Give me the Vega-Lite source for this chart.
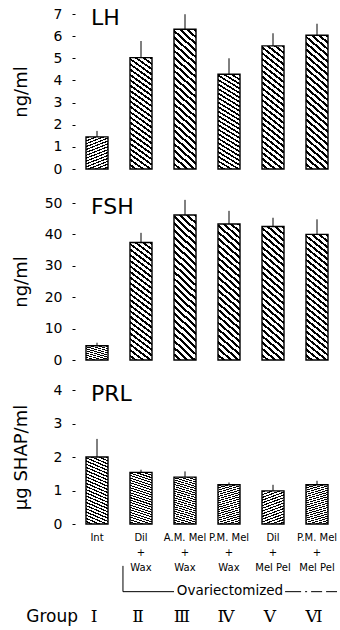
{
  "$schema": "https://vega.github.io/schema/vega-lite/v6.json",
  "background": "white",
  "padding": {"left": 11, "top": 6, "right": 1, "bottom": 4},
  "data": {"values": [
    {"hormone": "LH", "treat": "Int", "roman": "Ⅰ", "mean": 1.45, "hi": 1.72},
    {"hormone": "LH", "treat": "Dil + Wax", "roman": "Ⅱ", "mean": 5.03, "hi": 5.78},
    {"hormone": "LH", "treat": "A.M. Mel + Wax", "roman": "Ⅲ", "mean": 6.31, "hi": 6.99},
    {"hormone": "LH", "treat": "P.M. Mel + Wax", "roman": "Ⅳ", "mean": 4.28, "hi": 5.0},
    {"hormone": "LH", "treat": "Dil + Mel Pel", "roman": "Ⅴ", "mean": 5.56, "hi": 6.13},
    {"hormone": "LH", "treat": "P.M. Mel + Mel Pel", "roman": "Ⅵ", "mean": 6.04, "hi": 6.56},
    {"hormone": "FSH", "treat": "Int", "roman": "Ⅰ", "mean": 4.55, "hi": 5.5},
    {"hormone": "FSH", "treat": "Dil + Wax", "roman": "Ⅱ", "mean": 37.4, "hi": 40.5},
    {"hormone": "FSH", "treat": "A.M. Mel + Wax", "roman": "Ⅲ", "mean": 46.2, "hi": 51.0},
    {"hormone": "FSH", "treat": "P.M. Mel + Wax", "roman": "Ⅳ", "mean": 43.3, "hi": 47.5},
    {"hormone": "FSH", "treat": "Dil + Mel Pel", "roman": "Ⅴ", "mean": 42.5, "hi": 45.3},
    {"hormone": "FSH", "treat": "P.M. Mel + Mel Pel", "roman": "Ⅵ", "mean": 40.0, "hi": 44.8},
    {"hormone": "PRL", "treat": "Int", "roman": "Ⅰ", "mean": 2.0, "hi": 2.54},
    {"hormone": "PRL", "treat": "Dil + Wax", "roman": "Ⅱ", "mean": 1.54, "hi": 1.62},
    {"hormone": "PRL", "treat": "A.M. Mel + Wax", "roman": "Ⅲ", "mean": 1.4, "hi": 1.57},
    {"hormone": "PRL", "treat": "P.M. Mel + Wax", "roman": "Ⅳ", "mean": 1.17, "hi": 1.24},
    {"hormone": "PRL", "treat": "Dil + Mel Pel", "roman": "Ⅴ", "mean": 0.99, "hi": 1.17},
    {"hormone": "PRL", "treat": "P.M. Mel + Mel Pel", "roman": "Ⅵ", "mean": 1.17, "hi": 1.29}
  ]},
  "config": {
    "view": {"stroke": null},
    "font": "DejaVu Sans",
    "text": {"color": "black", "font": "DejaVu Sans"},
    "bar": {"fill": {"gradient": "linear", "x1": 1, "y1": 0, "x2": 0.8411, "y2": 1.1194, "stops": [
      {"offset": 0, "color": "#000"}, {"offset": 0.0175, "color": "#000"}, {"offset": 0.0175, "color": "#fff"}, {"offset": 0.0417, "color": "#fff"},
      {"offset": 0.0417, "color": "#000"}, {"offset": 0.0592, "color": "#000"}, {"offset": 0.0592, "color": "#fff"}, {"offset": 0.0833, "color": "#fff"},
      {"offset": 0.0833, "color": "#000"}, {"offset": 0.1008, "color": "#000"}, {"offset": 0.1008, "color": "#fff"}, {"offset": 0.125, "color": "#fff"},
      {"offset": 0.125, "color": "#000"}, {"offset": 0.1425, "color": "#000"}, {"offset": 0.1425, "color": "#fff"}, {"offset": 0.1667, "color": "#fff"},
      {"offset": 0.1667, "color": "#000"}, {"offset": 0.1842, "color": "#000"}, {"offset": 0.1842, "color": "#fff"}, {"offset": 0.2083, "color": "#fff"},
      {"offset": 0.2083, "color": "#000"}, {"offset": 0.2258, "color": "#000"}, {"offset": 0.2258, "color": "#fff"}, {"offset": 0.25, "color": "#fff"},
      {"offset": 0.25, "color": "#000"}, {"offset": 0.2675, "color": "#000"}, {"offset": 0.2675, "color": "#fff"}, {"offset": 0.2917, "color": "#fff"},
      {"offset": 0.2917, "color": "#000"}, {"offset": 0.3092, "color": "#000"}, {"offset": 0.3092, "color": "#fff"}, {"offset": 0.3333, "color": "#fff"},
      {"offset": 0.3333, "color": "#000"}, {"offset": 0.3508, "color": "#000"}, {"offset": 0.3508, "color": "#fff"}, {"offset": 0.375, "color": "#fff"},
      {"offset": 0.375, "color": "#000"}, {"offset": 0.3925, "color": "#000"}, {"offset": 0.3925, "color": "#fff"}, {"offset": 0.4167, "color": "#fff"},
      {"offset": 0.4167, "color": "#000"}, {"offset": 0.4342, "color": "#000"}, {"offset": 0.4342, "color": "#fff"}, {"offset": 0.4583, "color": "#fff"},
      {"offset": 0.4583, "color": "#000"}, {"offset": 0.4758, "color": "#000"}, {"offset": 0.4758, "color": "#fff"}, {"offset": 0.5, "color": "#fff"},
      {"offset": 0.5, "color": "#000"}, {"offset": 0.5175, "color": "#000"}, {"offset": 0.5175, "color": "#fff"}, {"offset": 0.5417, "color": "#fff"},
      {"offset": 0.5417, "color": "#000"}, {"offset": 0.5592, "color": "#000"}, {"offset": 0.5592, "color": "#fff"}, {"offset": 0.5833, "color": "#fff"},
      {"offset": 0.5833, "color": "#000"}, {"offset": 0.6008, "color": "#000"}, {"offset": 0.6008, "color": "#fff"}, {"offset": 0.625, "color": "#fff"},
      {"offset": 0.625, "color": "#000"}, {"offset": 0.6425, "color": "#000"}, {"offset": 0.6425, "color": "#fff"}, {"offset": 0.6667, "color": "#fff"},
      {"offset": 0.6667, "color": "#000"}, {"offset": 0.6842, "color": "#000"}, {"offset": 0.6842, "color": "#fff"}, {"offset": 0.7083, "color": "#fff"},
      {"offset": 0.7083, "color": "#000"}, {"offset": 0.7258, "color": "#000"}, {"offset": 0.7258, "color": "#fff"}, {"offset": 0.75, "color": "#fff"},
      {"offset": 0.75, "color": "#000"}, {"offset": 0.7675, "color": "#000"}, {"offset": 0.7675, "color": "#fff"}, {"offset": 0.7917, "color": "#fff"},
      {"offset": 0.7917, "color": "#000"}, {"offset": 0.8092, "color": "#000"}, {"offset": 0.8092, "color": "#fff"}, {"offset": 0.8333, "color": "#fff"},
      {"offset": 0.8333, "color": "#000"}, {"offset": 0.8508, "color": "#000"}, {"offset": 0.8508, "color": "#fff"}, {"offset": 0.875, "color": "#fff"},
      {"offset": 0.875, "color": "#000"}, {"offset": 0.8925, "color": "#000"}, {"offset": 0.8925, "color": "#fff"}, {"offset": 0.9167, "color": "#fff"},
      {"offset": 0.9167, "color": "#000"}, {"offset": 0.9342, "color": "#000"}, {"offset": 0.9342, "color": "#fff"}, {"offset": 0.9583, "color": "#fff"},
      {"offset": 0.9583, "color": "#000"}, {"offset": 0.9758, "color": "#000"}, {"offset": 0.9758, "color": "#fff"}, {"offset": 1, "color": "#fff"}
    ]}},
    "axis": {"domain": false, "grid": false, "labelColor": "black", "titleColor": "black", "tickColor": "black", "labelFont": "DejaVu Sans", "titleFont": "DejaVu Sans", "titleFontWeight": "normal"},
    "axisY": {"ticks": true, "tickSize": 3, "tickWidth": 1, "labelPadding": 10, "labelFontSize": 14, "labelOverlap": false, "titleFontSize": 18, "titleAngle": -90, "titleBaseline": "middle", "titleAlign": "center", "titleX": -54}
  },
  "spacing": 34,
  "bounds": "flush",
  "vconcat": [
    {
      "width": 264, "height": 155,
      "transform": [{"filter": "datum.hormone == 'LH'"}],
      "encoding": {"x": {"field": "treat", "type": "nominal", "sort": null, "axis": null,
        "scale": {"domain": ["Int", "Dil + Wax", "A.M. Mel + Wax", "P.M. Mel + Wax", "Dil + Mel Pel", "P.M. Mel + Mel Pel"], "paddingInner": 0.5, "paddingOuter": 0.25}}},
      "layer": [
        {"mark": {"type": "bar"}, "encoding": {"y": {"datum": 7, "type": "quantitative", "scale": {"domain": [0, 7]}, "axis": {"title": "ng/ml", "values": [0, 1, 2, 3, 4, 5, 6, 7], "labelOverlap": false, "titleY": 77.5}}, "y2": {"datum": 0}}},
        {"mark": {"type": "bar", "fill": "white", "stroke": "white", "strokeWidth": 2}, "encoding": {"y": {"field": "mean", "type": "quantitative", "axis": {"title": "ng/ml", "values": [0, 1, 2, 3, 4, 5, 6, 7], "labelOverlap": false, "titleY": 77.5}}, "y2": {"datum": 7}}},
        {"mark": {"type": "bar", "filled": false, "stroke": "black", "strokeWidth": 1.4}, "encoding": {"y": {"field": "mean", "type": "quantitative", "axis": {"title": "ng/ml", "values": [0, 1, 2, 3, 4, 5, 6, 7], "labelOverlap": false, "titleY": 77.5}}}},
        {"mark": {"type": "rule", "stroke": "black", "strokeWidth": 1}, "encoding": {"y": {"field": "mean", "type": "quantitative", "axis": {"title": "ng/ml", "values": [0, 1, 2, 3, 4, 5, 6, 7], "labelOverlap": false, "titleY": 77.5}}, "y2": {"field": "hi"}}},
        {"data": {"values": [{"hormone": "LH", "t": "LH"}]}, "mark": {"type": "text", "align": "left", "baseline": "middle", "fontSize": 22, "dx": -6},
         "encoding": {"x": {"datum": "Int", "axis": null}, "y": {"datum": 6.82, "axis": {"title": "ng/ml", "values": [0, 1, 2, 3, 4, 5, 6, 7], "labelOverlap": false, "titleY": 77.5}}, "text": {"field": "t"}}}
      ]
    },
    {
      "spacing": 30,
      "bounds": "flush",
      "vconcat": [
        {
          "width": 264, "height": 157,
          "transform": [{"filter": "datum.hormone == 'FSH'"}],
          "encoding": {"x": {"field": "treat", "type": "nominal", "sort": null, "axis": null,
            "scale": {"domain": ["Int", "Dil + Wax", "A.M. Mel + Wax", "P.M. Mel + Wax", "Dil + Mel Pel", "P.M. Mel + Mel Pel"], "paddingInner": 0.5, "paddingOuter": 0.25}}},
          "layer": [
            {"mark": {"type": "bar"}, "encoding": {"y": {"datum": 50, "type": "quantitative", "scale": {"domain": [0, 50]}, "axis": {"title": "ng/ml", "values": [0, 10, 20, 30, 40, 50], "labelOverlap": false, "titleY": 78.5}}, "y2": {"datum": 0}}},
            {"mark": {"type": "bar", "fill": "white", "stroke": "white", "strokeWidth": 2}, "encoding": {"y": {"field": "mean", "type": "quantitative", "axis": {"title": "ng/ml", "values": [0, 10, 20, 30, 40, 50], "labelOverlap": false, "titleY": 78.5}}, "y2": {"datum": 50}}},
            {"mark": {"type": "bar", "filled": false, "stroke": "black", "strokeWidth": 1.4}, "encoding": {"y": {"field": "mean", "type": "quantitative", "axis": {"title": "ng/ml", "values": [0, 10, 20, 30, 40, 50], "labelOverlap": false, "titleY": 78.5}}}},
            {"mark": {"type": "rule", "stroke": "black", "strokeWidth": 1}, "encoding": {"y": {"field": "mean", "type": "quantitative", "axis": {"title": "ng/ml", "values": [0, 10, 20, 30, 40, 50], "labelOverlap": false, "titleY": 78.5}}, "y2": {"field": "hi"}}},
            {"data": {"values": [{"hormone": "FSH", "t": "FSH"}]}, "mark": {"type": "text", "align": "left", "baseline": "middle", "fontSize": 22, "dx": -6},
             "encoding": {"x": {"datum": "Int", "axis": null}, "y": {"datum": 48.7, "axis": {"title": "ng/ml", "values": [0, 10, 20, 30, 40, 50], "labelOverlap": false, "titleY": 78.5}}, "text": {"field": "t"}}}
          ]
        },
        {
          "width": 264, "height": 134,
          "transform": [{"filter": "datum.hormone == 'PRL'"}],
          "encoding": {"x": {"field": "treat", "type": "nominal", "sort": null,
            "scale": {"domain": ["Int", "Dil + Wax", "A.M. Mel + Wax", "P.M. Mel + Wax", "Dil + Mel Pel", "P.M. Mel + Mel Pel"], "paddingInner": 0.5, "paddingOuter": 0.25},
            "axis": {"title": null, "ticks": false, "tickSize": 0, "domain": false, "labelAngle": 0, "labelFontSize": 10, "labelLineHeight": 15, "labelPadding": 8, "labelOverlap": false, "labelBaseline": "top",
              "labelExpr": "datum.label == 'Int' ? 'Int' : [split(datum.label, ' + ')[0], '+', split(datum.label, ' + ')[1]]"}}},
          "layer": [
            {"mark": {"type": "bar", "fill": {"gradient": "linear", "x1": 1, "y1": 0, "x2": 0.8139, "y2": 1.1336, "stops": [
              {"offset": 0, "color": "#000"}, {"offset": 0.02, "color": "#000"}, {"offset": 0.02, "color": "#fff"}, {"offset": 0.0476, "color": "#fff"},
              {"offset": 0.0476, "color": "#000"}, {"offset": 0.0676, "color": "#000"}, {"offset": 0.0676, "color": "#fff"}, {"offset": 0.0952, "color": "#fff"},
              {"offset": 0.0952, "color": "#000"}, {"offset": 0.1152, "color": "#000"}, {"offset": 0.1152, "color": "#fff"}, {"offset": 0.1429, "color": "#fff"},
              {"offset": 0.1429, "color": "#000"}, {"offset": 0.1629, "color": "#000"}, {"offset": 0.1629, "color": "#fff"}, {"offset": 0.1905, "color": "#fff"},
              {"offset": 0.1905, "color": "#000"}, {"offset": 0.2105, "color": "#000"}, {"offset": 0.2105, "color": "#fff"}, {"offset": 0.2381, "color": "#fff"},
              {"offset": 0.2381, "color": "#000"}, {"offset": 0.2581, "color": "#000"}, {"offset": 0.2581, "color": "#fff"}, {"offset": 0.2857, "color": "#fff"},
              {"offset": 0.2857, "color": "#000"}, {"offset": 0.3057, "color": "#000"}, {"offset": 0.3057, "color": "#fff"}, {"offset": 0.3333, "color": "#fff"},
              {"offset": 0.3333, "color": "#000"}, {"offset": 0.3533, "color": "#000"}, {"offset": 0.3533, "color": "#fff"}, {"offset": 0.381, "color": "#fff"},
              {"offset": 0.381, "color": "#000"}, {"offset": 0.401, "color": "#000"}, {"offset": 0.401, "color": "#fff"}, {"offset": 0.4286, "color": "#fff"},
              {"offset": 0.4286, "color": "#000"}, {"offset": 0.4486, "color": "#000"}, {"offset": 0.4486, "color": "#fff"}, {"offset": 0.4762, "color": "#fff"},
              {"offset": 0.4762, "color": "#000"}, {"offset": 0.4962, "color": "#000"}, {"offset": 0.4962, "color": "#fff"}, {"offset": 0.5238, "color": "#fff"},
              {"offset": 0.5238, "color": "#000"}, {"offset": 0.5438, "color": "#000"}, {"offset": 0.5438, "color": "#fff"}, {"offset": 0.5714, "color": "#fff"},
              {"offset": 0.5714, "color": "#000"}, {"offset": 0.5914, "color": "#000"}, {"offset": 0.5914, "color": "#fff"}, {"offset": 0.619, "color": "#fff"},
              {"offset": 0.619, "color": "#000"}, {"offset": 0.639, "color": "#000"}, {"offset": 0.639, "color": "#fff"}, {"offset": 0.6667, "color": "#fff"},
              {"offset": 0.6667, "color": "#000"}, {"offset": 0.6867, "color": "#000"}, {"offset": 0.6867, "color": "#fff"}, {"offset": 0.7143, "color": "#fff"},
              {"offset": 0.7143, "color": "#000"}, {"offset": 0.7343, "color": "#000"}, {"offset": 0.7343, "color": "#fff"}, {"offset": 0.7619, "color": "#fff"},
              {"offset": 0.7619, "color": "#000"}, {"offset": 0.7819, "color": "#000"}, {"offset": 0.7819, "color": "#fff"}, {"offset": 0.8095, "color": "#fff"},
              {"offset": 0.8095, "color": "#000"}, {"offset": 0.8295, "color": "#000"}, {"offset": 0.8295, "color": "#fff"}, {"offset": 0.8571, "color": "#fff"},
              {"offset": 0.8571, "color": "#000"}, {"offset": 0.8771, "color": "#000"}, {"offset": 0.8771, "color": "#fff"}, {"offset": 0.9048, "color": "#fff"},
              {"offset": 0.9048, "color": "#000"}, {"offset": 0.9248, "color": "#000"}, {"offset": 0.9248, "color": "#fff"}, {"offset": 0.9524, "color": "#fff"},
              {"offset": 0.9524, "color": "#000"}, {"offset": 0.9724, "color": "#000"}, {"offset": 0.9724, "color": "#fff"}, {"offset": 1, "color": "#fff"}
            ]}}, "encoding": {"y": {"datum": 4, "type": "quantitative", "scale": {"domain": [0, 4]}, "axis": {"title": "μg SHAP/ml", "values": [0, 1, 2, 3, 4], "labelOverlap": false, "titleY": 67}}, "y2": {"datum": 0}}},
            {"mark": {"type": "bar", "fill": "white", "stroke": "white", "strokeWidth": 2}, "encoding": {"y": {"field": "mean", "type": "quantitative", "axis": {"title": "μg SHAP/ml", "values": [0, 1, 2, 3, 4], "labelOverlap": false, "titleY": 67}}, "y2": {"datum": 4}}},
            {"mark": {"type": "bar", "filled": false, "stroke": "black", "strokeWidth": 1.4}, "encoding": {"y": {"field": "mean", "type": "quantitative", "axis": {"title": "μg SHAP/ml", "values": [0, 1, 2, 3, 4], "labelOverlap": false, "titleY": 67}}}},
            {"mark": {"type": "rule", "stroke": "black", "strokeWidth": 1}, "encoding": {"y": {"field": "mean", "type": "quantitative", "axis": {"title": "μg SHAP/ml", "values": [0, 1, 2, 3, 4], "labelOverlap": false, "titleY": 67}}, "y2": {"field": "hi"}}},
            {"data": {"values": [{"hormone": "PRL", "t": "PRL"}]}, "mark": {"type": "text", "align": "left", "baseline": "middle", "fontSize": 22, "dx": -6},
             "encoding": {"x": {"datum": "Int"}, "y": {"datum": 3.88, "axis": {"title": "μg SHAP/ml", "values": [0, 1, 2, 3, 4], "labelOverlap": false, "titleY": 67}}, "text": {"field": "t"}}},
            {"mark": {"type": "text", "fontSize": 17, "dx": -3, "baseline": "middle", "font": "DejaVu Serif"}, "encoding": {"y": {"datum": -2.78, "axis": {"title": "μg SHAP/ml", "values": [0, 1, 2, 3, 4], "labelOverlap": false, "titleY": 67}}, "text": {"field": "roman"}}},
            {"data": {"values": [{"hormone": "PRL", "t": "Group"}]}, "mark": {"type": "text", "align": "right", "baseline": "middle", "fontSize": 17, "dx": -19},
             "encoding": {"x": {"datum": "Int"}, "y": {"datum": -2.78, "axis": {"title": "μg SHAP/ml", "values": [0, 1, 2, 3, 4], "labelOverlap": false, "titleY": 67}}, "text": {"field": "t"}}},
            {"data": {"values": [{"hormone": "PRL", "t": "Ovariectomized"}]}, "mark": {"type": "text", "align": "center", "baseline": "middle", "fontSize": 13.5, "dx": 1},
             "encoding": {"x": {"datum": "P.M. Mel + Wax"}, "y": {"datum": -2.0, "axis": {"title": "μg SHAP/ml", "values": [0, 1, 2, 3, 4], "labelOverlap": false, "titleY": 67}}, "text": {"field": "t"}}},
            {"data": {"values": [{"hormone": "PRL"}]}, "mark": {"type": "rule", "stroke": "black", "strokeWidth": 1},
             "encoding": {"x": {"datum": "Dil + Wax", "bandPosition": -0.32}, "y": {"datum": -1.25, "axis": {"title": "μg SHAP/ml", "values": [0, 1, 2, 3, 4], "labelOverlap": false, "titleY": 67}}, "y2": {"datum": -2.02}}},
            {"data": {"values": [{"hormone": "PRL"}]}, "mark": {"type": "rule", "stroke": "black", "strokeWidth": 1},
             "encoding": {"x": {"datum": "Dil + Wax", "bandPosition": -0.32}, "x2": {"datum": "A.M. Mel + Wax", "bandPosition": 0}, "y": {"datum": -2.02, "axis": {"title": "μg SHAP/ml", "values": [0, 1, 2, 3, 4], "labelOverlap": false, "titleY": 67}}}},
            {"data": {"values": [{"hormone": "PRL"}]}, "mark": {"type": "rule", "stroke": "black", "strokeWidth": 1, "strokeDash": [16, 4, 2, 4, 11, 4]},
             "encoding": {"x": {"datum": "P.M. Mel + Mel Pel", "bandPosition": -0.95}, "x2": {"datum": "P.M. Mel + Mel Pel", "bandPosition": 1.41}, "y": {"datum": -2.02, "axis": {"title": "μg SHAP/ml", "values": [0, 1, 2, 3, 4], "labelOverlap": false, "titleY": 67}}}}
          ]
        }
      ]
    }
  ]
}
